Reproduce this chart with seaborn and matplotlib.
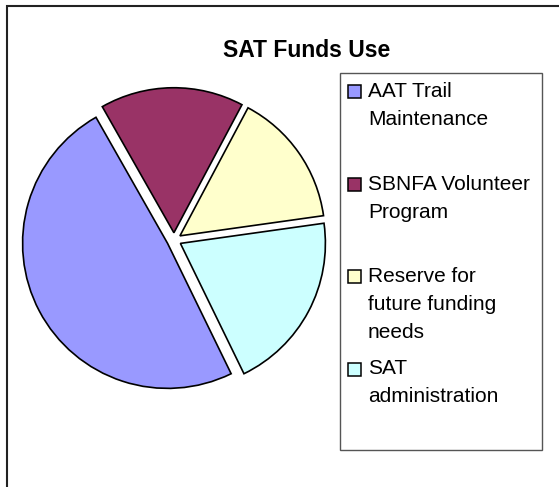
import matplotlib
matplotlib.use("Agg")
import matplotlib.pyplot as plt
from matplotlib.patches import Rectangle
import seaborn as sns

# data
labels = ["AAT Trail\nMaintenance", "SBNFA Volunteer\nProgram",
          "Reserve for\nfuture funding\nneeds", "SAT\nadministration"]
shares = [49, 16, 15, 20]
colors = ["#9999FF", "#993366", "#FFFFCC", "#CCFFFF"]

sns.set_theme(style="white")
plt.rcParams['font.family'] = ['Liberation Sans', 'DejaVu Sans']

W, H = 559, 487
fig = plt.figure(figsize=(W / 100, H / 100), dpi=100)
fig.patch.set_facecolor("white")

def fx(px):
    return px / W

def fy(py):
    # py measured from the top of the image
    return 1 - py / H

# outer chart frame (runs off the right and bottom edges)
fig.patches.append(Rectangle((fx(7), fy(600)), fx(700), 594 / H, transform=fig.transFigure,
                             fill=False, edgecolor="#222222", lw=1.5))

# pie: centre ~ (174, 240) px, radius ~145 px
L = 1.15
S = 145 * 2 * L
ax = fig.add_axes([fx(174 - S / 2), fy(240 + S / 2), S / W, S / H])
pal = sns.color_palette(colors)
ax.pie(shares, colors=pal, startangle=-64, counterclock=False,
       explode=[0.05] * len(shares),
       wedgeprops=dict(edgecolor="black", linewidth=1.2))
ax.set_xlim(-L, L)
ax.set_ylim(-L, L)
ax.set_aspect("equal")
ax.axis("off")

fig.text(fx(307), fy(57.3), "SAT Funds Use", ha="center", va="baseline",
         fontsize=16.5, fontweight="bold", color="black")

# legend box, Excel style: equal spacing per entry
fig.patches.append(Rectangle((fx(340), fy(450)), 202 / W, 377 / H, transform=fig.transFigure,
                             fill=False, edgecolor="#555555", lw=1.0))
for i, (lab, c) in enumerate(zip(labels, pal)):
    yc = 90 + i * 92.5
    fig.patches.append(Rectangle((fx(348), fy(yc + 1.5 + 6.5)), 13 / W, 13 / H,
                                 transform=fig.transFigure, facecolor=c,
                                 edgecolor="black", lw=1.1))
    for k, line in enumerate(lab.split("\n")):
        fig.text(fx(368), fy(yc + 7 + 28 * k), line, ha="left", va="baseline",
                 fontsize=15, color="black")

fig.savefig("out.png", dpi=100)
